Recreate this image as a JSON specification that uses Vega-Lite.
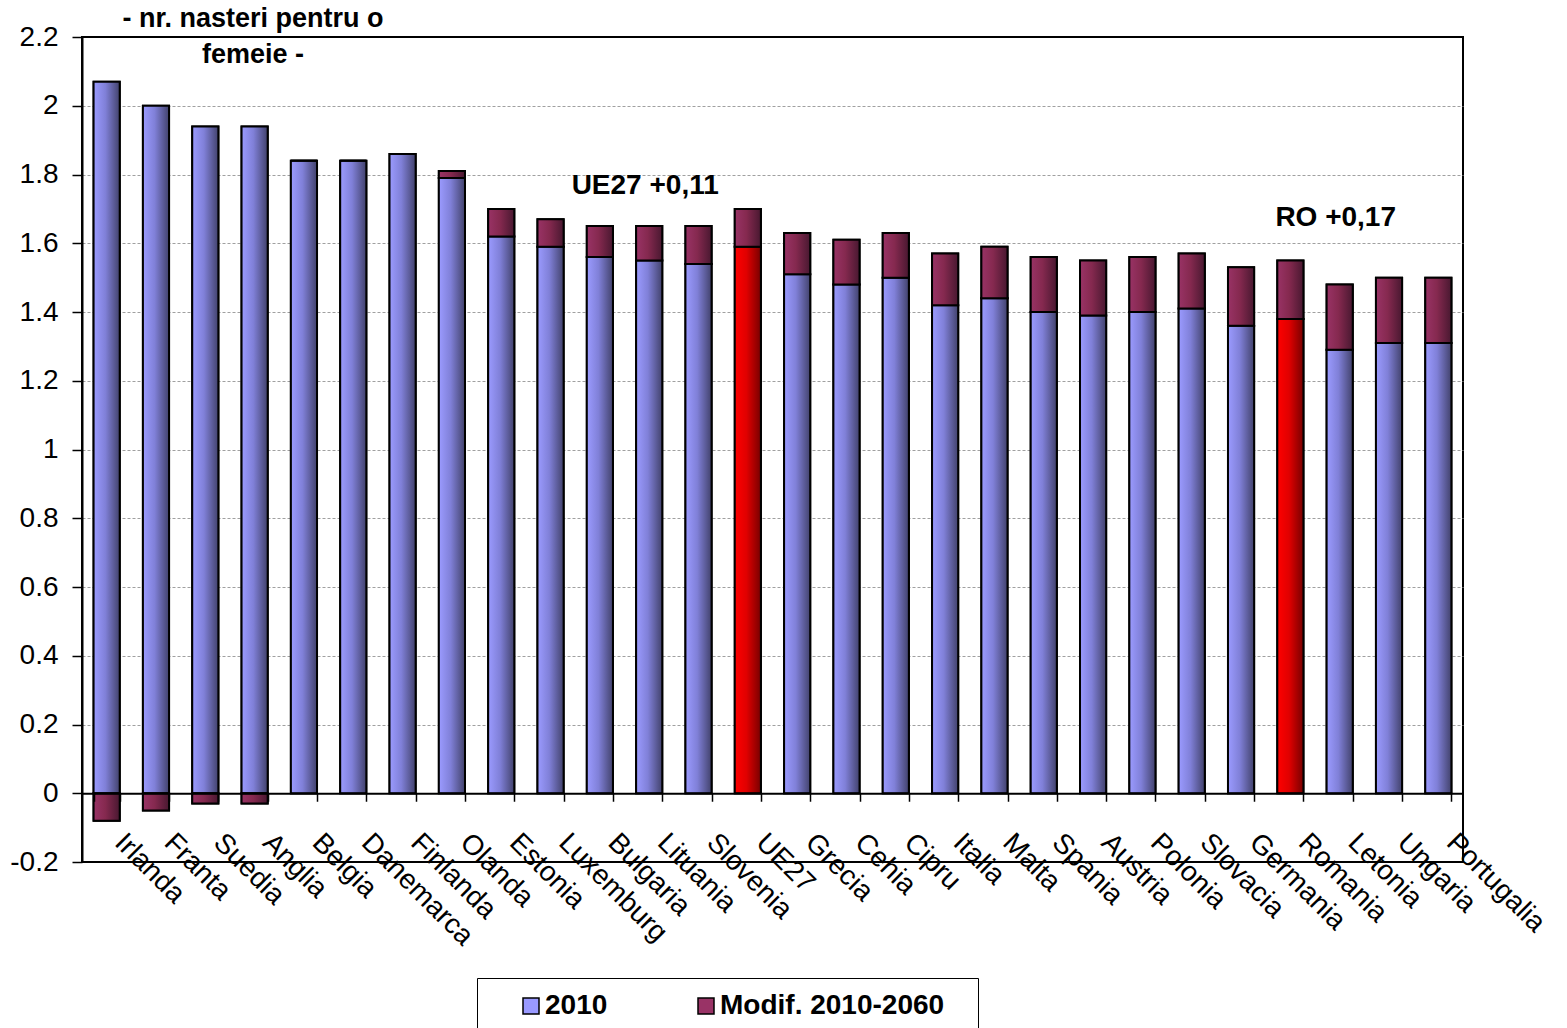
{
  "$schema": "https://vega.github.io/schema/vega-lite/v6.json",
  "width": 1381,
  "height": 825,
  "autosize": {"type": "none"},
  "padding": {"left": 82, "top": 37, "right": 104, "bottom": 166},
  "background": "white",
  "config": {
    "view": {"stroke": "black", "strokeWidth": 2},
    "font": "Liberation Sans"
  },
  "data": {
    "values": [
      {"country": "Irlanda", "series": "2010", "value": 2.07},
      {"country": "Irlanda", "series": "Modif. 2010-2060", "value": -0.08},
      {"country": "Franta", "series": "2010", "value": 2.00},
      {"country": "Franta", "series": "Modif. 2010-2060", "value": -0.05},
      {"country": "Suedia", "series": "2010", "value": 1.94},
      {"country": "Suedia", "series": "Modif. 2010-2060", "value": -0.03},
      {"country": "Anglia", "series": "2010", "value": 1.94},
      {"country": "Anglia", "series": "Modif. 2010-2060", "value": -0.03},
      {"country": "Belgia", "series": "2010", "value": 1.84},
      {"country": "Belgia", "series": "Modif. 2010-2060", "value": 0},
      {"country": "Danemarca", "series": "2010", "value": 1.84},
      {"country": "Danemarca", "series": "Modif. 2010-2060", "value": 0},
      {"country": "Finlanda", "series": "2010", "value": 1.86},
      {"country": "Finlanda", "series": "Modif. 2010-2060", "value": 0},
      {"country": "Olanda", "series": "2010", "value": 1.79},
      {"country": "Olanda", "series": "Modif. 2010-2060", "value": 0.02},
      {"country": "Estonia", "series": "2010", "value": 1.62},
      {"country": "Estonia", "series": "Modif. 2010-2060", "value": 0.08},
      {"country": "Luxemburg", "series": "2010", "value": 1.59},
      {"country": "Luxemburg", "series": "Modif. 2010-2060", "value": 0.08},
      {"country": "Bulgaria", "series": "2010", "value": 1.56},
      {"country": "Bulgaria", "series": "Modif. 2010-2060", "value": 0.09},
      {"country": "Lituania", "series": "2010", "value": 1.55},
      {"country": "Lituania", "series": "Modif. 2010-2060", "value": 0.10},
      {"country": "Slovenia", "series": "2010", "value": 1.54},
      {"country": "Slovenia", "series": "Modif. 2010-2060", "value": 0.11},
      {"country": "UE27", "series": "2010", "value": 1.59},
      {"country": "UE27", "series": "Modif. 2010-2060", "value": 0.11},
      {"country": "Grecia", "series": "2010", "value": 1.51},
      {"country": "Grecia", "series": "Modif. 2010-2060", "value": 0.12},
      {"country": "Cehia", "series": "2010", "value": 1.48},
      {"country": "Cehia", "series": "Modif. 2010-2060", "value": 0.13},
      {"country": "Cipru", "series": "2010", "value": 1.50},
      {"country": "Cipru", "series": "Modif. 2010-2060", "value": 0.13},
      {"country": "Italia", "series": "2010", "value": 1.42},
      {"country": "Italia", "series": "Modif. 2010-2060", "value": 0.15},
      {"country": "Malta", "series": "2010", "value": 1.44},
      {"country": "Malta", "series": "Modif. 2010-2060", "value": 0.15},
      {"country": "Spania", "series": "2010", "value": 1.40},
      {"country": "Spania", "series": "Modif. 2010-2060", "value": 0.16},
      {"country": "Austria", "series": "2010", "value": 1.39},
      {"country": "Austria", "series": "Modif. 2010-2060", "value": 0.16},
      {"country": "Polonia", "series": "2010", "value": 1.40},
      {"country": "Polonia", "series": "Modif. 2010-2060", "value": 0.16},
      {"country": "Slovacia", "series": "2010", "value": 1.41},
      {"country": "Slovacia", "series": "Modif. 2010-2060", "value": 0.16},
      {"country": "Germania", "series": "2010", "value": 1.36},
      {"country": "Germania", "series": "Modif. 2010-2060", "value": 0.17},
      {"country": "Romania", "series": "2010", "value": 1.38},
      {"country": "Romania", "series": "Modif. 2010-2060", "value": 0.17},
      {"country": "Letonia", "series": "2010", "value": 1.29},
      {"country": "Letonia", "series": "Modif. 2010-2060", "value": 0.19},
      {"country": "Ungaria", "series": "2010", "value": 1.31},
      {"country": "Ungaria", "series": "Modif. 2010-2060", "value": 0.19},
      {"country": "Portugalia", "series": "2010", "value": 1.31},
      {"country": "Portugalia", "series": "Modif. 2010-2060", "value": 0.19}
    ]
  },
  "encoding": {
    "x": {
      "field": "country",
      "type": "nominal",
      "sort": ["Irlanda","Franta","Suedia","Anglia","Belgia","Danemarca","Finlanda","Olanda","Estonia","Luxemburg","Bulgaria","Lituania","Slovenia","UE27","Grecia","Cehia","Cipru","Italia","Malta","Spania","Austria","Polonia","Slovacia","Germania","Romania","Letonia","Ungaria","Portugalia"],
      "scale": {"paddingInner": 0.47, "paddingOuter": 0.235},
      "axis": {
        "title": null,
        "offset": -68.75,
        "domainColor": "black",
        "domainWidth": 2,
        "tickColor": "black",
        "tickWidth": 1.5,
        "tickSize": 8,
        "tickBand": "extent",
        "labelAngle": 45,
        "labelAlign": "left",
        "labelBaseline": "top",
        "labelFontSize": 28,
        "labelFont": "Liberation Sans",
        "labelColor": "black",
        "labelPadding": 27,
        "labelOffset": 22,
        "labelOverlap": false,
        "labelBound": false,
        "labelFlush": false,
        "zindex": 1
      }
    }
  },
  "layer": [
    {
      "transform": [
        {"stack": "value", "groupby": ["country"], "sort": [{"field": "series", "order": "ascending"}], "as": ["v0", "v1"]}
      ],
      "mark": {"type": "bar", "stroke": "black", "strokeWidth": 2},
      "encoding": {
        "y": {
          "field": "v1",
          "type": "quantitative",
          "scale": {"domain": [-0.2, 2.2], "nice": false, "zero": false},
          "axis": {
            "title": ["- nr. nasteri pentru o", "femeie -"],
            "titleAngle": 0,
            "titleX": 170.5,
            "titleY": -10.3,
            "titleAlign": "center",
            "titleBaseline": "alphabetic",
            "titleFontSize": 27,
            "titleFontWeight": "bold",
            "titleFont": "Liberation Sans",
            "titleColor": "black",
            "titleLineHeight": 35.6,
            "values": [-0.2, 0, 0.2, 0.4, 0.6, 0.8, 1, 1.2, 1.4, 1.6, 1.8, 2, 2.2],
            "labelExpr": "datum.value < 0 ? '-' + format(-datum.value, '~g') : format(datum.value, '~g')",
            "labelFontSize": 28,
            "labelFont": "Liberation Sans",
            "labelColor": "black",
            "labelPadding": 14,
            "tickSize": 10,
            "tickColor": "black",
            "tickWidth": 1.5,
            "domainColor": "black",
            "domainWidth": 2,
            "grid": true,
            "gridColor": "#a0a0a0",
            "gridWidth": 1.2,
            "gridDash": [3, 2],
            "gridOpacity": {"condition": {"test": "abs(datum.value) < 0.01 || datum.value > 2.1 || datum.value < -0.1", "value": 0}, "value": 1}
          }
        },
        "y2": {"field": "v0"},
        "color": {
          "field": "series",
          "type": "nominal",
          "scale": {"domain": ["2010", "Modif. 2010-2060"], "range": ["#9999ff", "#993366"]},
          "legend": {
            "title": " ",
            "titleOrient": "right",
            "titlePadding": 20,
            "titleFontSize": 27,
            "orient": "none",
            "legendX": 395,
            "legendY": 941,
            "direction": "horizontal",
            "strokeColor": "black",
            "fillColor": "white",
            "padding": 14,
            "symbolType": "square",
            "symbolSize": 256,
            "symbolStrokeColor": "black",
            "symbolStrokeWidth": 1.5,
            "symbolOffset": 26,
            "labelFontSize": 28,
            "labelFontWeight": "bold",
            "labelFont": "Liberation Sans",
            "labelColor": "black",
            "labelOffset": 0,
            "labelLimit": 500,
            "columnPadding": 58
          }
        }
      }
    },
    {
      "transform": [
        {"stack": "value", "groupby": ["country"], "sort": [{"field": "series", "order": "ascending"}], "as": ["v0", "v1"]},
        {"filter": "datum.series === '2010' && datum.country !== 'UE27' && datum.country !== 'Romania'"}
      ],
      "mark": {
        "type": "bar",
        "stroke": "black",
        "strokeWidth": 2,
        "fill": {"gradient": "linear", "x1": 0, "y1": 0, "x2": 1, "y2": 0, "stops": [{"offset": 0, "color": "#9b9bff"}, {"offset": 0.45, "color": "#8080d8"}, {"offset": 1, "color": "#42426c"}]}
      },
      "encoding": {
        "y": {"field": "v1", "type": "quantitative"},
        "y2": {"field": "v0"}
      }
    },
    {
      "transform": [
        {"stack": "value", "groupby": ["country"], "sort": [{"field": "series", "order": "ascending"}], "as": ["v0", "v1"]},
        {"filter": "datum.series === '2010' && (datum.country === 'UE27' || datum.country === 'Romania')"}
      ],
      "mark": {
        "type": "bar",
        "stroke": "black",
        "strokeWidth": 2,
        "fill": {"gradient": "linear", "x1": 0, "y1": 0, "x2": 1, "y2": 0, "stops": [{"offset": 0, "color": "#ff0000"}, {"offset": 0.45, "color": "#e00000"}, {"offset": 1, "color": "#780000"}]}
      },
      "encoding": {
        "y": {"field": "v1", "type": "quantitative"},
        "y2": {"field": "v0"}
      }
    },
    {
      "transform": [
        {"stack": "value", "groupby": ["country"], "sort": [{"field": "series", "order": "ascending"}], "as": ["v0", "v1"]},
        {"filter": "datum.series === 'Modif. 2010-2060'"}
      ],
      "mark": {
        "type": "bar",
        "stroke": "black",
        "strokeWidth": 2,
        "fill": {"gradient": "linear", "x1": 0, "y1": 0, "x2": 1, "y2": 0, "stops": [{"offset": 0, "color": "#993366"}, {"offset": 0.45, "color": "#85294f"}, {"offset": 1, "color": "#481830"}]}
      },
      "encoding": {
        "y": {"field": "v1", "type": "quantitative"},
        "y2": {"field": "v0"}
      }
    },
    {
      "data": {
        "values": [
          {"country": "Lituania", "value": 1.744, "label": "UE27 +0,11"},
          {"country": "Letonia", "value": 1.649, "label": "RO +0,17"}
        ]
      },
      "mark": {"type": "text", "fontSize": 28, "fontWeight": "bold", "font": "Liberation Sans", "color": "black", "align": "center", "baseline": "alphabetic", "dx": -4},
      "encoding": {
        "y": {"field": "value", "type": "quantitative"},
        "text": {"field": "label"}
      }
    }
  ]
}
